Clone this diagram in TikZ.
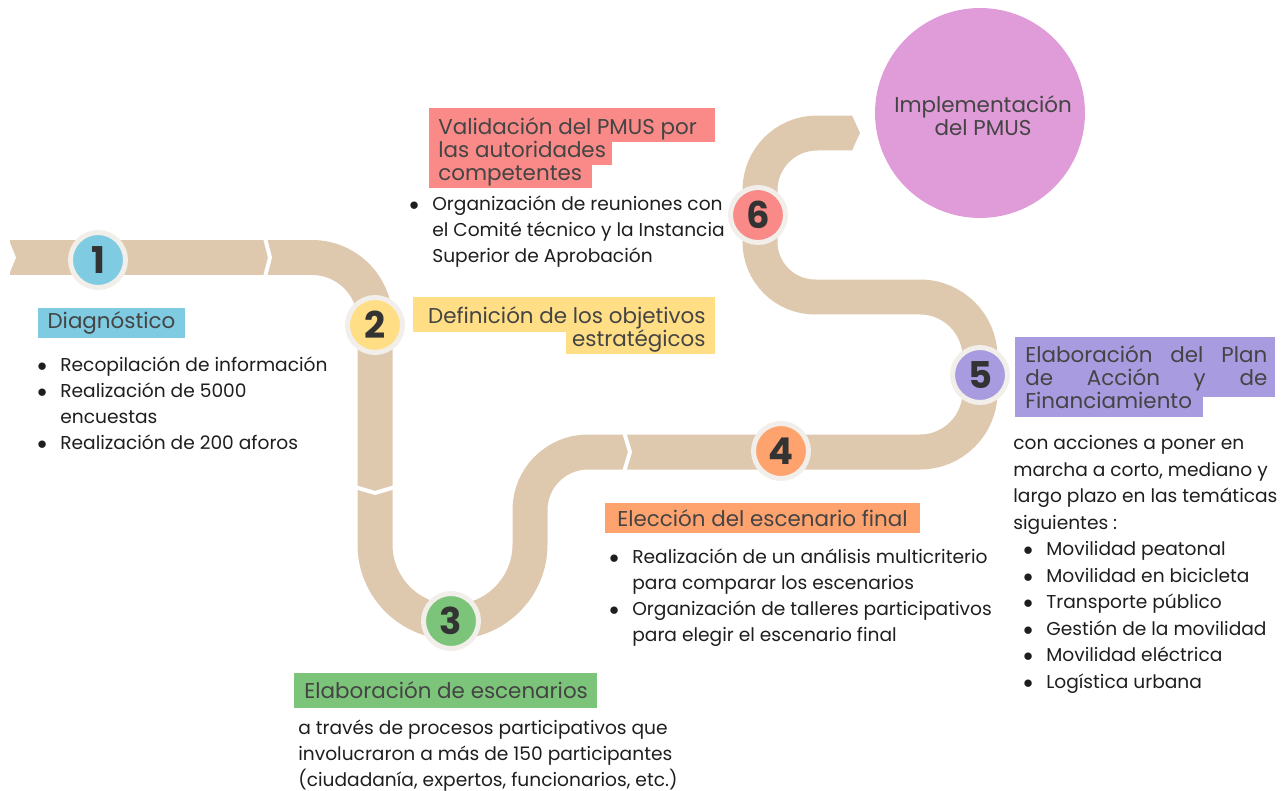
\documentclass[tikz,border=0pt]{standalone}
\usepackage{fontspec}
\setmainfont{Poppins}
\usetikzlibrary{positioning}

\definecolor{roadtan}{HTML}{DEC8AE}
\definecolor{ringgray}{HTML}{F2EEEA}
\definecolor{diagblue}{HTML}{7FCBE2}
\definecolor{defyellow}{HTML}{FFDE85}
\definecolor{escgreen}{HTML}{7CC47A}
\definecolor{elecorange}{HTML}{FFA36E}
\definecolor{planpurple}{HTML}{A89BE0}
\definecolor{valred}{HTML}{F98A87}
\definecolor{implpink}{HTML}{E09BD9}
\definecolor{numtext}{HTML}{333333}
\definecolor{titletext}{HTML}{444444}
\definecolor{bodytext}{HTML}{1E1E1E}

\newcommand{\numfont}{\fontsize{21pt}{21pt}\selectfont\bfseries}
\newcommand{\titlefont}{\fontsize{12.2pt}{13.2pt}\selectfont}
\newcommand{\bodyfont}{\fontsize{10.6pt}{14.8pt}\selectfont}
\newcommand{\itembul}{\makebox[0.46cm][l]{$\bullet$}}

\begin{document}
\begin{tikzpicture}[x=0.02cm, y=-0.02cm,
    road/.style={line width=0.7cm, draw=roadtan},
    roadgap/.style={line width=0.08cm, draw=white},
    stepnum/.style={circle, minimum size=1.1cm, inner sep=0pt, draw=ringgray,
        line width=0.1cm, text=numtext, font=\numfont},
    steptitle/.style={inner sep=0pt, text=titletext, font=\titlefont},
    steptext/.style={inner sep=0pt, text=bodytext, font=\bodyfont, align=left}]

    \useasboundingbox (0,0) rectangle (1285,791);

    % Road
    \draw[road] (10,257.5) -- (312,257.5) arc (270:360:63) -- (375,544.5)
        arc (180:0:77.5) -- (530,510) arc (180:270:58) -- (920,452)
        arc (90:0:60) -- (980,357) arc (0:-90:60) -- (815,297)
        arc (90:180:55) -- (760,190) arc (180:270:57) -- (852,133);
    \fill[white] (8,238) -- (16,257.5) -- (8,277) -- cycle;
    \fill[roadtan] (852,115.5) -- (860,133) -- (852,150.5) -- cycle;

    % Chevron gaps
    \draw[roadgap] (265,238) -- (270,257.5) -- (265,277);
    \draw[roadgap] (355,487) -- (375,493) -- (395,487);
    \draw[roadgap] (624,432) -- (630,452) -- (624,472);

    % Final goal
    \node[circle, fill=implpink, minimum size=4.2cm, inner sep=0pt] (impl) at (980,113) {};
    \node[steptitle, align=center] (impltext) at (983,116) {Implementación\\del PMUS};

    % Step markers
    \node[stepnum, fill=diagblue] (s1) at (98,260) {1};
    \node[stepnum, fill=defyellow] (s2) at (375,325) {2};
    \node[stepnum, fill=escgreen] (s3) at (451,621) {3};
    \node[stepnum, fill=elecorange] (s4) at (781,451) {4};
    \node[stepnum, fill=planpurple] (s5) at (980,375) {5};
    \node[stepnum, fill=valred] (s6) at (758,215) {6};

    % Step 1
    \fill[diagblue] (38,308) rectangle (185,338);
    \node[steptitle] (t1) at (111.5,323) {Diagnóstico};
    \node[steptext, anchor=north west] (b1) at (37,356) {%
        \itembul Recopilación de información\\
        \itembul Realización de 5000\\
        \hspace{0.46cm}encuestas\\
        \itembul Realización de 200 aforos};

    % Step 2
    \fill[defyellow] (413,297) rectangle (715,332);
    \fill[defyellow] (566,332) rectangle (715,354);
    \node[steptitle, align=right, anchor=north east] (t2) at (706,306) {Definición de los objetivos\\estratégicos};

    % Step 3
    \fill[escgreen] (294,673) rectangle (597,708);
    \node[steptitle, anchor=west] (t3) at (304,690) {Elaboración de escenarios};
    \node[steptext, anchor=north west] (b3) at (298,720) {%
        a través de procesos participativos que\\
        involucraron a más de 150 participantes\\
        (ciudadanía, expertos, funcionarios, etc.)};

    % Step 4
    \fill[elecorange] (605,503) rectangle (920,533);
    \node[steptitle, anchor=west] (t4) at (617,518) {Elección del escenario final};
    \node[steptext, anchor=north west] (b4) at (609,548) {%
        \itembul Realización de un análisis multicriterio\\
        \hspace{0.46cm}para comparar los escenarios\\
        \itembul Organización de talleres participativos\\
        \hspace{0.46cm}para elegir el escenario final};

    % Step 5
    \fill[planpurple] (1015,337) rectangle (1275,397);
    \fill[planpurple] (1015,397) rectangle (1203,417);
    \node[steptitle, align=left, anchor=north west] (t5) at (1025,345) {%
        \makebox[4.84cm][s]{Elaboración del Plan}\\
        \makebox[4.84cm][s]{de Acción y de}\\
        Financiamiento};
    \node[steptext, anchor=north west, font=\fontsize{10.6pt}{15.1pt}\selectfont] (b5) at (1013,435) {%
        con acciones a poner en\\
        marcha a corto, mediano y\\
        largo plazo en las temáticas\\
        siguientes :\\
        \hspace{0.2cm}\itembul Movilidad peatonal\\
        \hspace{0.2cm}\itembul Movilidad en bicicleta\\
        \hspace{0.2cm}\itembul Transporte público\\
        \hspace{0.2cm}\itembul Gestión de la movilidad\\
        \hspace{0.2cm}\itembul Movilidad eléctrica\\
        \hspace{0.2cm}\itembul Logística urbana};

    % Step 6
    \fill[valred] (429,108) rectangle (715,142);
    \fill[valred] (429,142) rectangle (612,165);
    \fill[valred] (429,165) rectangle (592,188);
    \node[steptitle, align=left, anchor=north west] (t6) at (438,117) {%
        Validación del PMUS por\\
        las autoridades\\
        competentes};
    \node[steptext, anchor=north west] (b6) at (409,195) {%
        \itembul Organización de reuniones con\\
        \hspace{0.46cm}el Comité técnico y la Instancia\\
        \hspace{0.46cm}Superior de Aprobación};

\end{tikzpicture}
\end{document}
